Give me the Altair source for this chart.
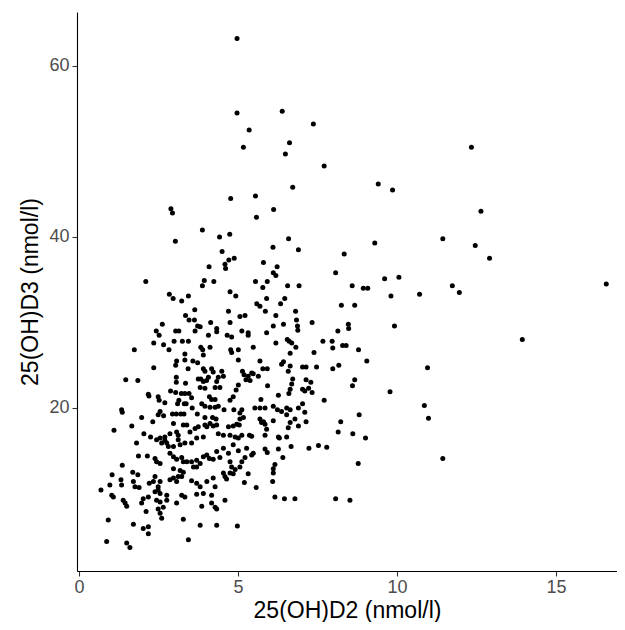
import altair as alt
import pandas as pd

# (25(OH)D2, 25(OH)D3) pairs, nmol/l
top_points = [(4.97, 63.2), (4.97, 54.5), (6.39, 54.7), (7.37, 53.2), (5.35, 52.5), (5.17, 50.5),
              (6.62, 51.0), (6.49, 49.7), (7.71, 48.3)]

right_points = [(12.34, 50.5), (12.64, 43.0), (11.44, 39.8), (12.46, 39.0), (12.91, 37.5), (10.06, 35.3),
                (11.74, 34.3), (11.96, 33.5), (10.71, 33.3), (16.58, 34.5), (13.94, 28.0), (10.96, 24.7),
                (10.86, 20.3), (10.99, 18.8), (11.44, 14.1)]

upper_left = [(2.89, 43.3), (2.94, 42.8), (3.03, 39.5), (2.10, 34.8), (2.84, 33.3), (2.96, 32.8), (3.44, 33.1)]

upper_mid = [(6.72, 45.8), (4.77, 44.5), (5.55, 44.8), (6.12, 43.2), (5.58, 42.3), (3.88, 40.8), (4.42, 40.0),
             (4.74, 40.3), (6.59, 39.8), (6.10, 38.8), (6.90, 38.5), (4.50, 38.3), (4.88, 37.5), (4.71, 37.3),
             (4.59, 36.8), (4.61, 36.3), (4.09, 36.5), (5.80, 37.0), (6.23, 36.5), (6.11, 35.8), (6.19, 35.5),
             (3.94, 34.9), (3.88, 34.3), (4.24, 34.8), (5.55, 34.8), (5.92, 34.8), (5.78, 34.1), (6.56, 34.3),
             (6.92, 34.3), (4.75, 33.6), (4.93, 33.1), (5.90, 32.8), (6.47, 32.8)]

upper_right = [(9.41, 46.2), (9.86, 45.5), (9.30, 39.3), (8.34, 38.0), (8.07, 35.8), (9.61, 35.1),
               (8.59, 34.3), (8.94, 34.0), (9.08, 34.0), (9.81, 33.1)]

mid_left = [(3.23, 32.5), (3.64, 31.5), (3.35, 30.8), (3.46, 30.3), (3.63, 30.3), (3.73, 29.6), (2.62, 29.8),
            (2.43, 29.0), (2.52, 28.5), (3.04, 29.0), (3.14, 29.0), (3.65, 29.0), (2.35, 27.6), (2.66, 27.4),
            (2.83, 26.8), (2.99, 27.8), (3.25, 27.8), (3.44, 27.8), (1.74, 26.8), (3.33, 26.3), (3.07, 25.5),
            (3.33, 25.6), (3.58, 25.5), (3.73, 25.3), (3.04, 25.0), (3.43, 24.6), (2.35, 24.7), (3.06, 23.6),
            (3.06, 23.0), (3.35, 22.9), (3.75, 23.4), (1.47, 23.3), (1.85, 23.2), (2.88, 22.0), (3.04, 21.8),
            (3.22, 21.7), (3.33, 21.7), (3.46, 21.7), (3.54, 21.2), (2.18, 21.6), (2.20, 21.4), (2.49, 21.3),
            (2.52, 20.9), (2.70, 20.6), (3.14, 20.9), (3.10, 20.5), (3.31, 20.5), (3.37, 20.5), (3.56, 20.0),
            (1.34, 19.8), (1.36, 19.5), (2.55, 19.6), (2.49, 19.2), (2.66, 19.1), (2.94, 19.3), (3.06, 19.3),
            (3.20, 19.3), (3.30, 19.3), (3.72, 19.3), (1.97, 18.9)]

mid_center = [(5.59, 32.2), (5.69, 31.9), (6.34, 32.2), (5.86, 31.3), (4.70, 31.3), (5.06, 30.7), (5.22, 30.8),
              (6.19, 30.8), (6.81, 31.3), (4.75, 30.0), (4.14, 30.0), (3.81, 29.5), (4.33, 29.3), (4.33, 28.9),
              (5.12, 29.0), (5.32, 28.8), (5.32, 28.5), (5.90, 28.8), (6.11, 29.6), (6.43, 29.8), (6.84, 30.3),
              (6.87, 29.6), (6.88, 29.1), (4.07, 28.5), (4.66, 28.5), (4.80, 28.3), (6.19, 27.6), (6.55, 28.0),
              (6.61, 27.8), (6.69, 27.6), (3.83, 27.1), (3.89, 26.8), (4.12, 27.1), (4.77, 26.8), (5.01, 26.8),
              (5.48, 27.1), (4.80, 26.5), (6.64, 26.4), (6.82, 27.1), (3.91, 26.2), (5.69, 25.5), (5.01, 25.6),
              (6.37, 25.1), (6.43, 25.4), (6.64, 24.9), (6.58, 24.3), (3.91, 24.6), (3.96, 24.3), (4.17, 24.6),
              (4.22, 24.2), (4.49, 24.3), (4.07, 23.6), (4.38, 23.6), (4.54, 23.7), (5.14, 24.3), (5.19, 23.9),
              (5.32, 23.7), (5.43, 24.1), (5.48, 24.0), (5.64, 23.7), (5.78, 24.6), (5.92, 24.6), (5.25, 23.3),
              (5.38, 23.2), (3.83, 23.4), (3.91, 23.1), (4.01, 23.2), (4.33, 23.1), (3.81, 22.4), (3.96, 22.3),
              (4.28, 22.4), (4.43, 22.4), (5.01, 22.7), (4.94, 22.1), (5.93, 22.6), (6.72, 23.4), (6.69, 22.8),
              (6.64, 22.2), (6.60, 21.7), (6.27, 21.5), (4.85, 21.3), (4.75, 20.9), (4.10, 21.3), (4.17, 21.0),
              (4.28, 21.0), (5.72, 21.0), (3.86, 20.5), (3.96, 20.2), (4.12, 20.1), (4.28, 20.1), (4.38, 20.2),
              (4.56, 19.8), (4.87, 19.8), (5.12, 19.8), (5.06, 19.4), (5.53, 20.0), (5.69, 20.0), (5.85, 20.0),
              (6.11, 20.2), (6.24, 19.8), (6.37, 19.6), (6.53, 20.0), (6.90, 20.0), (6.53, 19.2), (6.64, 19.8),
              (3.96, 18.9), (4.20, 18.9), (4.31, 18.7), (5.06, 18.7), (5.17, 18.9), (5.69, 18.7), (6.79, 18.7)]

mid_right = [(8.25, 32.0), (8.67, 32.0), (7.33, 30.0), (8.47, 29.8), (8.48, 29.3), (8.14, 29.0), (9.92, 29.6),
             (7.67, 27.8), (7.96, 27.8), (7.98, 27.0), (8.29, 27.3), (8.40, 27.3), (8.79, 26.8), (7.39, 26.5),
             (9.05, 25.5), (7.03, 24.8), (7.14, 24.8), (7.47, 24.8), (7.98, 24.6), (8.17, 25.0), (7.14, 23.3),
             (7.29, 23.0), (8.67, 23.3), (8.60, 22.6), (7.03, 22.2), (7.10, 22.0), (7.22, 22.3), (7.33, 21.8),
             (9.78, 21.9), (7.71, 20.9), (7.10, 19.5), (8.81, 19.2), (7.03, 20.5)]

low_left = [(1.10, 17.4), (1.66, 17.9), (2.32, 18.4), (2.04, 17.0), (2.25, 16.6), (2.44, 16.3), (2.55, 16.5),
            (2.60, 15.9), (2.70, 16.2), (2.76, 15.9), (2.81, 15.5), (2.70, 16.6), (2.86, 17.0), (2.97, 18.2),
            (3.07, 17.2), (3.12, 16.8), (3.28, 18.0), (3.39, 18.0), (3.49, 17.2), (3.65, 17.6), (3.75, 17.8),
            (3.96, 18.0), (4.02, 17.8), (4.12, 18.2), (4.22, 17.9), (4.33, 18.0), (4.38, 17.0), (4.54, 16.8),
            (3.91, 16.6), (3.70, 16.5), (3.54, 15.9), (3.33, 15.9), (3.18, 15.7), (3.12, 16.3), (2.97, 15.5),
            (1.81, 15.9), (1.87, 14.4), (2.15, 14.4), (2.39, 14.1), (2.44, 13.7), (2.55, 13.5), (2.86, 14.7),
            (2.97, 14.3), (3.07, 14.0), (3.23, 14.2), (3.28, 13.7), (3.39, 13.7), (2.97, 12.9), (3.18, 12.7),
            (3.54, 13.7), (3.70, 13.9), (3.60, 13.1), (3.70, 13.1), (3.81, 13.5), (3.91, 14.3), (4.02, 14.5),
            (4.10, 14.1), (4.22, 14.0), (4.33, 14.9), (4.43, 14.2), (4.54, 15.3), (1.36, 13.3), (1.69, 12.5),
            (1.85, 12.2), (1.04, 12.2), (0.97, 11.0), (1.32, 11.6), (1.34, 11.0), (1.71, 11.4), (1.76, 10.8),
            (1.89, 10.7), (2.21, 11.2), (2.34, 11.4), (2.39, 12.0), (2.49, 10.8), (2.55, 11.4), (2.86, 11.6),
            (2.97, 11.8), (3.07, 11.4), (3.12, 12.0), (3.23, 12.0), (3.28, 12.5), (3.54, 11.5), (3.70, 11.2),
            (3.81, 10.8), (4.02, 11.4), (4.22, 11.8), (4.54, 12.4), (0.69, 10.4), (1.03, 9.8), (1.08, 9.6),
            (1.39, 9.2), (1.45, 8.9), (1.50, 8.5), (1.97, 8.9), (2.02, 9.4), (2.18, 9.6), (2.39, 10.2),
            (2.49, 10.4), (2.55, 10.0), (2.44, 9.2), (2.55, 9.0), (2.76, 9.8), (2.76, 9.2), (3.07, 8.9),
            (3.23, 9.8), (3.33, 9.6), (3.70, 9.9), (3.91, 10.0), (4.17, 9.8), (4.28, 10.8), (3.86, 8.5),
            (4.17, 8.9), (4.28, 8.4), (4.33, 8.2), (2.11, 7.9), (2.49, 8.2), (2.55, 7.7), (2.65, 8.4),
            (2.60, 7.1), (3.28, 7.0), (3.81, 6.3), (4.33, 6.3), (0.92, 6.9), (1.71, 6.4), (2.02, 5.9),
            (2.18, 6.1), (2.18, 5.3), (0.87, 4.4), (1.50, 4.2), (1.60, 3.7), (3.44, 4.6)]

low_right = [(4.70, 17.8), (4.85, 17.9), (4.96, 18.1), (5.04, 18.0), (4.75, 16.8), (4.91, 16.6), (5.01, 16.5),
             (5.12, 16.8), (5.36, 16.8), (5.43, 16.7), (5.74, 18.3), (5.80, 18.4), (5.85, 18.1), (6.11, 18.5),
             (5.90, 17.5), (5.85, 16.8), (6.27, 16.6), (6.30, 16.5), (6.53, 16.6), (6.64, 18.3), (6.58, 17.7),
             (6.90, 17.9), (7.14, 18.4), (8.23, 18.4), (8.15, 17.2), (8.61, 17.0), (9.01, 16.5), (4.70, 14.7),
             (4.85, 15.7), (5.01, 15.0), (5.27, 15.3), (5.85, 15.2), (5.92, 14.8), (6.27, 15.2), (6.67, 15.5),
             (7.23, 15.3), (7.53, 15.6), (7.79, 15.4), (5.48, 14.7), (5.43, 14.5), (5.22, 14.2), (5.12, 13.7),
             (5.06, 13.1), (4.75, 13.7), (4.80, 13.1), (4.91, 12.8), (4.75, 12.4), (4.85, 12.3), (4.64, 11.7),
             (4.59, 12.0), (5.32, 12.3), (5.20, 11.3), (5.57, 10.7), (6.11, 12.9), (6.16, 13.4), (6.11, 12.4),
             (6.09, 11.4), (6.41, 14.2), (6.16, 9.6), (6.46, 9.4), (6.79, 9.4), (8.07, 9.4), (8.52, 9.2),
             (8.78, 13.5), (4.59, 9.2), (4.98, 6.2)]

regions = [top_points, right_points, upper_left, upper_mid, upper_right,
           mid_left, mid_center, mid_right, low_left, low_right]
pairs = [p for region in regions for p in region]
df = pd.DataFrame(pairs, columns=["d2", "d3"])

x_ticks = [0, 5, 10, 15]
y_ticks = [20, 40, 60]

font = "Liberation Sans"

chart = (
    alt.Chart(df)
    .mark_circle(size=25, color="black", opacity=1)
    .encode(
        x=alt.X("d2:Q", title="25(OH)D2 (nmol/l)",
                scale=alt.Scale(domain=[-0.063, 16.918], nice=False, zero=False),
                axis=alt.Axis(values=x_ticks, grid=False, tickSize=5, labelPadding=2,
                              titleBaseline="alphabetic", titleY=46, format="d")),
        y=alt.Y("d3:Q", title="25(OH)D3 (nmol/l)",
                scale=alt.Scale(domain=[0.94, 66.3], nice=False, zero=False),
                axis=alt.Axis(values=y_ticks, grid=False, tickSize=5, labelPadding=3,
                              titlePadding=6, format="d")),
    )
    .properties(width=540, height=559, padding={"left": 69, "top": 4, "right": 0, "bottom": 51},
                autosize=alt.AutoSizeParams(type="none"), background="white")
    .configure_view(stroke=None)
    .configure_axis(
        domainColor="black", domainWidth=1.1, tickColor="#333333", tickWidth=1.1,
        labelColor="#4D4D4D", labelFont=font, labelFontSize=18,
        titleColor="black", titleFont=font, titleFontSize=23, titleFontWeight="normal",
    )
)

chart.save("out.html", embed_options={"renderer": "svg", "actions": False})
